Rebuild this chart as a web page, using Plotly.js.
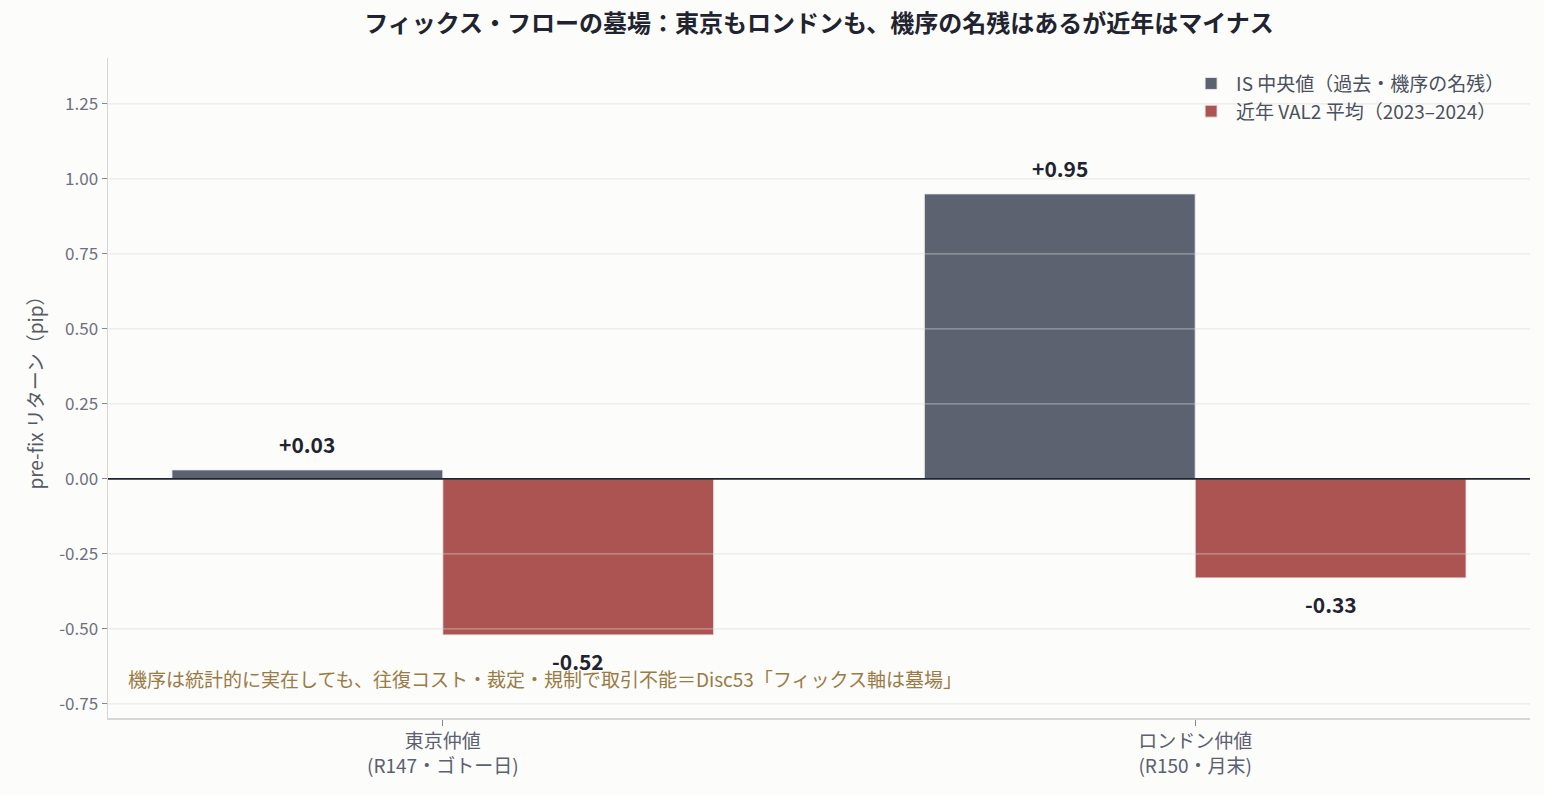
<!DOCTYPE html>
<html>
<head>
<meta charset="utf-8">
<script src="https://cdn.plot.ly/plotly-3.0.1.min.js"></script>
<style>html,body{margin:0;padding:0;background:#fcfcfa;}#chart{width:1544px;height:795px;}</style>
</head>
<body>
<div id="chart"></div>
<script>
const categories = ["東京仲値<br>(R147・ゴトー日)", "ロンドン仲値<br>(R150・月末)"];
const seriesNames = ["IS 中央値（過去・機序の名残）", "近年 VAL2 平均（2023–2024）"];
const isMedian = [0.03, 0.95];
const recentVal2 = [-0.52, -0.33];
const yTickVals = [-0.75, -0.5, -0.25, 0, 0.25, 0.5, 0.75, 1.0, 1.25];
const yTickText = ["-0.75", "-0.50", "-0.25", "0.00", "0.25", "0.50", "0.75", "1.00", "1.25"];
const titleText = "フィックス・フローの墓場：東京もロンドンも、機序の名残はあるが近年はマイナス";
const noteText = "機序は統計的に実在しても、往復コスト・裁定・規制で取引不能＝Disc53「フィックス軸は墓場」";

const FONT = '"Noto Sans CJK JP", "Noto Sans", sans-serif';
const colors = ["#5c6270", "#ab5452"];
const barWidth = 0.36;

const seriesValues = [isMedian, recentVal2];
const traces = seriesValues.map((vals, i) => ({
  type: 'bar',
  name: seriesNames[i],
  x: categories,
  y: vals,
  width: barWidth,
  marker: {color: colors[i], line: {color: 'rgba(235,235,235,0.9)', width: 1}},
  hoverinfo: 'skip'
}));

const fmt = v => (v > 0 ? '+' : '') + v.toFixed(2);
const annotations = [];
seriesValues.forEach((vals, i) => {
  const offset = (i === 0 ? -0.5 : 0.5) * barWidth;
  vals.forEach((v, j) => {
    annotations.push({
      x: j + offset, xref: 'x', y: v, yref: 'y',
      text: '<b>' + fmt(v) + '</b>', showarrow: false,
      yshift: v >= 0 ? 26 : -26,
      font: {family: FONT, size: 21, color: '#1f2430'}
    });
  });
});
annotations.push({
  x: 0.0127, xref: 'paper', y: 0.06, yref: 'paper',
  xanchor: 'left', yanchor: 'middle', showarrow: false,
  text: noteText, font: {family: FONT, size: 19, color: '#9a7a45'}
});

const shapes = yTickVals.map(v => ({
  type: 'line', layer: 'above', xref: 'paper', x0: 0, x1: 1, yref: 'y', y0: v, y1: v,
  line: v === 0 ? {color: '#1f2430', width: 1.6} : {color: 'rgba(215,215,215,0.5)', width: 1.2}
}));

const layout = {
  width: 1544, height: 795,
  paper_bgcolor: '#fcfcfa', plot_bgcolor: '#fcfcfa',
  margin: {l: 108, r: 14, t: 58, b: 77},
  font: {family: FONT, color: '#5a6070'},
  title: {text: '<b>' + titleText + '</b>', x: 0.5, xref: 'paper', xanchor: 'center',
          y: 0.970, yref: 'container', yanchor: 'middle',
          font: {family: FONT, size: 24, color: '#1f2430'}},
  barmode: 'group', bargap: 0.28, bargroupgap: 0,
  xaxis: {
    type: 'category', range: [-0.445, 1.445],
    showgrid: false, zeroline: false,
    showline: true, linecolor: '#d6d6d2', linewidth: 1.5, mirror: false,
    ticks: 'outside', ticklen: 6, tickcolor: '#888888', tickwidth: 1,
    tickfont: {family: FONT, size: 19, color: '#5a6070'}
  },
  yaxis: {
    range: [-0.797, 1.403],
    tickvals: yTickVals, ticktext: yTickText,
    showgrid: false, zeroline: false,
    showline: true, linecolor: '#d6d6d2', linewidth: 1.5,
    ticks: 'outside', ticklen: 5, tickcolor: '#888888', tickwidth: 1,
    tickfont: {family: FONT, size: 17, color: '#6b7080'},
    title: {text: 'pre-fix リターン（pip）', standoff: 10, font: {family: FONT, size: 19, color: '#555a66'}}
  },
  legend: {
    x: 0.986, xanchor: 'right', y: 0.99, yanchor: 'top',
    bgcolor: 'rgba(0,0,0,0)', borderwidth: 0,
    font: {family: FONT, size: 19, color: '#4a5060'},
    itemwidth: 40
  },
  annotations: annotations,
  shapes: shapes,
  showlegend: true
};

Plotly.newPlot('chart', traces, layout, {displayModeBar: false, staticPlot: true});
</script>
</body>
</html>
